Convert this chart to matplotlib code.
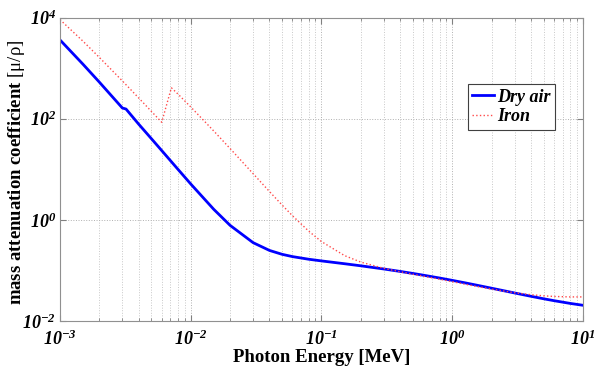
import numpy as np
import matplotlib
matplotlib.use("Agg")
import matplotlib.pyplot as plt
from matplotlib.ticker import LogLocator, NullLocator, FixedLocator

plt.rcParams['font.family'] = ['Liberation Serif', 'DejaVu Serif']
plt.rcParams['mathtext.fontset'] = 'custom'
plt.rcParams['mathtext.rm'] = 'Liberation Serif'
plt.rcParams['mathtext.it'] = 'Liberation Serif:italic'
plt.rcParams['mathtext.bf'] = 'Liberation Serif:bold:italic'

# photon energy [MeV] and mass attenuation coefficients
air_energy = [1e-3, 1.5e-3, 2e-3, 3e-3, 3.2e-3, 4e-3, 5e-3, 6e-3, 8e-3, 1e-2,
              1.5e-2, 2e-2, 3e-2, 4e-2, 5e-2, 6e-2, 8e-2, 0.1, 0.15, 0.2,
              0.3, 0.4, 0.5, 0.6, 0.8, 1.0, 1.25, 1.5, 2.0, 3.0, 4.0, 5.0,
              6.0, 8.0, 10.0]
air_mu = [3606, 1191, 527.9, 162.5, 155.0, 77.88, 40.27, 23.41, 9.921, 5.12,
          1.614, 0.7779, 0.3538, 0.2485, 0.2080, 0.1875, 0.1662, 0.1541, 0.1356, 0.1233,
          0.1067, 0.09549, 0.08712, 0.08055, 0.07074, 0.06358, 0.05687, 0.05175, 0.04447, 0.03581, 0.03079, 0.02751,
          0.02522, 0.02225, 0.02045]

iron_energy = [1e-3, 1.5e-3, 2e-3, 3e-3, 4e-3, 5e-3, 6e-3, 7.112e-3, 8e-3, 1e-2,
               1.5e-2, 2e-2, 3e-2, 4e-2, 5e-2, 6e-2, 8e-2, 0.1, 0.15, 0.2,
               0.3, 0.4, 0.5, 0.6, 0.8, 1.0, 1.25, 1.5, 2.0, 3.0, 4.0, 5.0,
               6.0, 8.0, 10.0]
iron_mu = [9085, 3399, 1626, 557.6, 256.7, 139.5, 84.84, 407.5, 305.6, 170.6,
           57.08, 25.68, 8.176, 3.629, 1.958, 1.205, 0.5952, 0.3717, 0.1964, 0.146,
           0.1099, 0.094, 0.08414, 0.07704, 0.06699, 0.05995, 0.0535, 0.04883, 0.04265, 0.03621, 0.03312, 0.03146,
           0.03057, 0.02991, 0.02994]

x_ticks = [1e-3, 1e-2, 1e-1, 1e0, 1e1]
x_labels = [r'$\mathbf{10^{-3}}$', r'$\mathbf{10^{-2}}$', r'$\mathbf{10^{-1}}$', r'$\mathbf{10^{0}}$', r'$\mathbf{10^{1}}$']
y_ticks = [1e-2, 1e0, 1e2, 1e4]
y_labels = [r'$\mathbf{10^{-2}}$', r'$\mathbf{10^{0}}$', r'$\mathbf{10^{2}}$', r'$\mathbf{10^{4}}$']

fig = plt.figure(figsize=(5.95, 3.78), dpi=100)
ax = fig.add_axes([0.1008, 0.1508, 0.8790, 0.8029])

ax.loglog(air_energy, air_mu, color='#0000ff', lw=2.0, label='Dry air')
ax.loglog(iron_energy, iron_mu, color='#ff4a4a', lw=1.0, ls=':', label='Iron')

ax.set_xlim(1e-3, 1e1)
ax.set_ylim(1e-2, 1e4)

ax.xaxis.set_major_locator(FixedLocator(x_ticks))
ax.set_xticklabels(x_labels)
ax.xaxis.set_minor_locator(LogLocator(base=10, subs=np.arange(2, 10), numticks=20))
ax.yaxis.set_major_locator(FixedLocator(y_ticks))
ax.set_yticklabels(y_labels)
ax.yaxis.set_minor_locator(NullLocator())

ax.grid(True, which='major', ls=':', color='#b0b0b0', lw=0.7)
ax.grid(True, which='minor', axis='x', ls=':', color='#c8c8c8', lw=0.7)

ax.tick_params(which='both', direction='in', top=True, right=True, colors='#808080',
               labelcolor='black', labelsize=13)
ax.tick_params(which='major', length=4)
ax.tick_params(which='minor', length=2)
ax.tick_params(axis='x', pad=6)
ax.tick_params(axis='y', pad=3)
for sp in ax.spines.values():
    sp.set_color('#909090')

ax.set_xlabel('Photon Energy [MeV]', fontsize=13.5, fontweight='bold', labelpad=0)
ax.set_ylabel(r'mass attenuation coefficient $[\mathrm{\mu/\rho}]$', fontsize=13.5,
              fontweight='bold')
ax.yaxis.set_label_coords(-0.063, 0.49)

leg = ax.legend(loc='upper left', bbox_to_anchor=(0.78, 0.78), borderaxespad=0,
                fancybox=False, framealpha=1, edgecolor='#404040', handlelength=1.2,
                handletextpad=0.15, borderpad=0.25, labelspacing=0.15,
                prop={'family': 'Liberation Serif', 'weight': 'bold', 'style': 'italic', 'size': 13})
leg.get_frame().set_linewidth(0.8)

fig.savefig('out.png', dpi=100)
